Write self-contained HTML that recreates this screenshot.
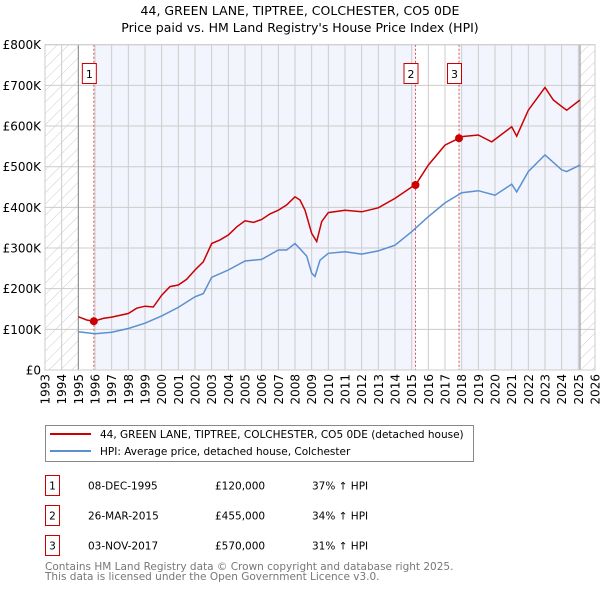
<!DOCTYPE html>
<html><head><meta charset="utf-8"><style>
body{margin:0;background:#fff;font-family:"DejaVu Sans","Liberation Sans",sans-serif;}
svg{display:block}
</style></head><body>
<svg id="chart" width="600" height="590" xmlns="http://www.w3.org/2000/svg" font-family="DejaVu Sans, Liberation Sans, sans-serif">
<defs><pattern id="hatch" patternUnits="userSpaceOnUse" width="8" height="8" patternTransform="rotate(45)"><line x1="0" y1="0" x2="0" y2="8" stroke="#ccc" stroke-width="1"/></pattern></defs>
<text x="300" y="15" text-anchor="middle" font-size="12.5">44, GREEN LANE, TIPTREE, COLCHESTER, CO5 0DE</text>
<text x="300" y="32" text-anchor="middle" font-size="12.5">Price paid vs. HM Land Registry's House Price Index (HPI)</text>
<g id="plot"></g>
<g id="legend">
<rect x="45.5" y="425.5" width="428" height="36" fill="#fff" stroke="#888"/>
<line x1="50" y1="434" x2="91" y2="434" stroke="#cc0000" stroke-width="2"/>
<text x="100" y="438" font-size="10.5">44, GREEN LANE, TIPTREE, COLCHESTER, CO5 0DE (detached house)</text>
<line x1="50" y1="451" x2="91" y2="451" stroke="#5b8fd0" stroke-width="2"/>
<text x="100" y="455" font-size="10.5">HPI: Average price, detached house, Colchester</text>
</g>
<g id="table" font-size="10.5"></g>
<text x="45" y="570" font-size="10.5" fill="#777">Contains HM Land Registry data © Crown copyright and database right 2025.</text>
<text x="45" y="580" font-size="10.5" fill="#777">This data is licensed under the Open Government Licence v3.0.</text>
</svg>
<script>
const yTicks=[0,100,200,300,400,500,600,700,800];
const yTickLabels=["£0","£100K","£200K","£300K","£400K","£500K","£600K","£700K","£800K"];
const xYears=[1993,1994,1995,1996,1997,1998,1999,2000,2001,2002,2003,2004,2005,2006,2007,2008,2009,2010,2011,2012,2013,2014,2015,2016,2017,2018,2019,2020,2021,2022,2023,2024,2025,2026];
const hpiT=[1995,1996,1997,1998,1999,2000,2001,2002,2002.5,2003,2004,2005,2006,2007,2007.5,2008,2008.3,2008.7,2009,2009.2,2009.5,2010,2011,2012,2013,2014,2015,2016,2017,2018,2019,2020,2021,2021.3,2022,2023,2024,2024.3,2025.1];
const hpiV=[94,89,93,102,115,133,154,180,188,228,246,268,272,295,295,311,298,280,238,230,270,287,291,285,293,307,340,377,411,436,441,430,457,438,488,529,492,488,504];
const priceT=[1995,1995.5,1995.93,1996.5,1997,1998,1998.5,1999,1999.5,2000,2000.5,2001,2001.5,2002,2002.5,2003,2003.5,2004,2004.5,2005,2005.5,2006,2006.5,2007,2007.5,2008,2008.3,2008.6,2009,2009.3,2009.6,2010,2011,2012,2013,2014,2015,2015.23,2016,2017,2017.84,2018,2019,2019.8,2020,2021,2021.3,2022,2023,2023.5,2024,2024.3,2025.1];
const priceV=[131,123,120,127,130,139,152,157,155,184,205,209,223,246,266,311,320,332,352,367,363,370,384,393,406,426,418,393,336,316,365,387,393,389,399,422,450,455,504,553,570,574,578,561,567,598,575,639,695,664,648,639,664];
const saleT=[1995.93,2015.23,2017.84];
const saleV=[120,455,570];
const saleLabels=["1","2","3"];
const saleDates=["08-DEC-1995","26-MAR-2015","03-NOV-2017"];
const salePrices=["£120,000","£455,000","£570,000"];
const saleHpi=["37% ↑ HPI","34% ↑ HPI","31% ↑ HPI"];

const NS="http://www.w3.org/2000/svg";
const L=45,R=595,T=44.7,B=370;
const xs=t=>L+(t-1993)/(2026-1993)*(R-L);
const ys=v=>B-v/800*(B-T);
function mk(tag,attrs,parent){const e=document.createElementNS(NS,tag);for(const k in attrs)e.setAttribute(k,attrs[k]);parent.appendChild(e);return e;}
const plot=document.getElementById('plot');
let bg=mk('rect',{x:L,y:T,width:R-L,height:B-T,fill:'#fff'},plot);


const bands=[[saleT[0],saleT[1]],[saleT[2],2025.1]];
bands.forEach((b,i)=>{const r=mk('rect',{x:xs(b[0]),y:T,width:xs(b[1])-xs(b[0]),height:B-T,fill:'#f2f5fd'},plot);

});
[[1993,1995],[2025.1,2026]].forEach(b=>{const r=mk('rect',{x:xs(b[0]),y:T,width:xs(b[1])-xs(b[0]),height:B-T,fill:'url(#hatch)'},plot);

});
xYears.forEach(y=>{const g=mk('line',{x1:xs(y),x2:xs(y),y1:T,y2:B,stroke:'#ccc','stroke-width':1},plot);


const tx=mk('text',{x:0,y:0,'font-size':12,'text-anchor':'end',transform:`translate(${xs(y)+4.5},${B+4}) rotate(-90)`},plot);tx.textContent=y;

});
yTicks.forEach((v,i)=>{const g=mk('line',{x1:L,x2:R,y1:ys(v),y2:ys(v),stroke:'#ccc','stroke-width':1},plot);


const tx=mk('text',{x:L-4,y:ys(v)+4.5,'font-size':12,'text-anchor':'end'},plot);tx.textContent=yTickLabels[i];

});
[1995,2025.1].forEach(t=>{const l=mk('line',{x1:xs(t),x2:xs(t),y1:T,y2:B,stroke:'#888','stroke-width':1},plot);

});
saleT.forEach((t,i)=>{const l=mk('line',{x1:xs(t),x2:xs(t),y1:T,y2:B,stroke:'#e05050','stroke-width':1,'stroke-dasharray':'2,2'},plot);


const r=mk('rect',{x:xs(t)-11.5,y:63.5,width:14,height:20,fill:'#fff',stroke:'#cc0000'},plot);


const tx=mk('text',{x:xs(t)-4.5,y:78,'font-size':11,'text-anchor':'middle'},plot);tx.textContent=saleLabels[i];

});
function path(T_,V_){return T_.map((t,i)=>(i?'L':'M')+xs(t).toFixed(1)+','+ys(V_[i]).toFixed(1)).join('');}
const hp=mk('path',{d:path(hpiT,hpiV),fill:'none',stroke:'#5b8fd0','stroke-width':1.5},plot);


const pp=mk('path',{d:path(priceT,priceV),fill:'none',stroke:'#cc0000','stroke-width':1.5},plot);


saleT.forEach((t,i)=>{const c=mk('circle',{cx:xs(t),cy:ys(saleV[i]),r:4,fill:'#cc0000'},plot);

});
const bd=mk('rect',{x:L,y:T,width:R-L,height:B-T,fill:'none',stroke:'#ccc'},plot);


const tb=document.getElementById('table');
saleLabels.forEach((s,i)=>{const y0=475.5+i*30;
const r=mk('rect',{x:45.5,y:y0,width:14,height:20,fill:'#fff',stroke:'#cc0000'},tb);


const cells=[[52.5,s,'middle','table-row-number'],[88,saleDates[i],'start','table-date'],[215,salePrices[i],'start','table-price'],[312,saleHpi[i],'start','table-hpi-change']];
cells.forEach(c=>{const tx=mk('text',{x:c[0],y:y0+14,'text-anchor':c[2]},tb);tx.textContent=c[1];

});});
</script>
</body></html>
